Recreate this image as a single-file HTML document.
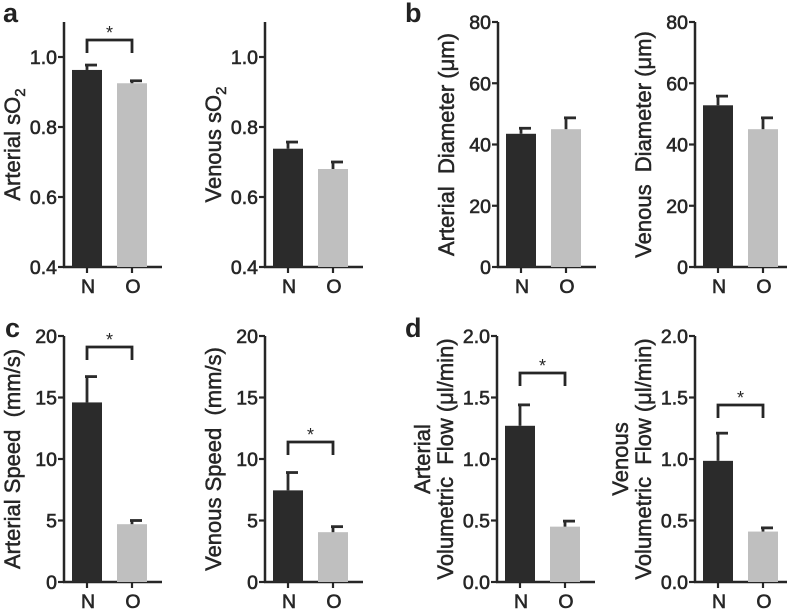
<!DOCTYPE html>
<html><head><meta charset="utf-8"><style>
body{margin:0;background:#fff;}
svg{display:block;font-family:"Liberation Sans",Arial,sans-serif;}
text{white-space:pre;}
</style></head><body>
<svg id="fig" width="787" height="609" viewBox="0 0 787 609"></svg>
<script>
const categories = ["N","O"];
const a1Values = [0.963, 0.925], a1Err = [0.977, 0.932];
const a2Values = [0.738, 0.680], a2Err = [0.757, 0.700];
const b1Values = [43.5, 45.0], b1Err = [45.3, 48.7];
const b2Values = [52.8, 45.0], b2Err = [55.8, 48.7];
const c1Values = [14.6, 4.7], c1Err = [16.7, 5.0];
const c2Values = [7.45, 4.05], c2Err = [8.9, 4.5];
const d1Values = [1.27, 0.45], d1Err = [1.44, 0.495];
const d2Values = [0.985, 0.41], d2Err = [1.21, 0.44];
const sO2Ticks = ["0.4","0.6","0.8","1.0"];
const diamTicks = ["0","20","40","60","80"];
const speedTicks = ["0","5","10","15","20"];
const flowTicks = ["0.0","0.5","1.0","1.5","2.0"];

const NS="http://www.w3.org/2000/svg";
const svg=document.getElementById('fig');
function mk(tag,attrs,parent){const e=document.createElementNS(NS,tag);for(const k in attrs)e.setAttribute(k,attrs[k]);(parent||svg).appendChild(e);return e;}

function panel(name,o){
  const g=mk('g',{});
  
  
  const y=v=>o.bottom-(v-o.min)/(o.max-o.min)*(o.bottom-o.top);
  const col='#262626';
  const ax=mk('line',{x1:o.ax,y1:o.top,x2:o.ax,y2:o.bottom,stroke:col,'stroke-width':2.5},g);
  
  const bl=mk('line',{x1:o.ax-1,y1:o.bottom,x2:o.ax+98,y2:o.bottom,stroke:col,'stroke-width':2.5},g);
  
  o.ticks.forEach(t=>{
    const v=parseFloat(t),yy=y(v);
    mk('line',{x1:o.ax-6,y1:yy,x2:o.ax,y2:yy,stroke:col,'stroke-width':2.2},g);
    const tx=mk('text',{x:o.ax-7,y:yy+7,'text-anchor':'end','font-size':19.5,fill:col,stroke:col,'stroke-width':0.6},g);
    tx.textContent=t;
    
  });
  const bx=[o.ax+8,o.ax+53];
  categories.forEach((c,i)=>{
    const x0=bx[i],w=30,cx=x0+w/2;
    const r=mk('rect',{x:x0,y:y(o.vals[i]),width:w,height:o.bottom-y(o.vals[i]),fill:i==0?'#2b2b2b':'#bfbfbf'},g);
    
    mk('line',{x1:cx,y1:y(o.vals[i]),x2:cx,y2:y(o.err[i]),stroke:'#2b2b2b','stroke-width':2.8},g);
    mk('line',{x1:cx-2,y1:y(o.err[i]),x2:cx+10,y2:y(o.err[i]),stroke:'#2b2b2b','stroke-width':2.8},g);
    mk('line',{x1:cx,y1:o.bottom,x2:cx,y2:o.bottom+6,stroke:col,'stroke-width':2.2},g);
    const lt=mk('text',{x:cx+1,y:o.bottom+26,'text-anchor':'middle','font-size':19.5,fill:col,stroke:col,'stroke-width':0.6},g);
    lt.textContent=c;
    
  });
  if(o.br){
    const x1=bx[0]+15,x2=bx[1]+15,by=o.br;
    const p=mk('path',{d:`M${x1} ${by+13}V${by}H${x2}V${by+13}`,fill:'none',stroke:col,'stroke-width':2.8},g);
    
    const s=mk('text',{x:(x1+x2)/2,y:by-1,'text-anchor':'middle','font-size':18,fill:col},g);
    s.textContent='*';
    
  }
  const midY=(o.top+o.bottom)/2;
  o.title.forEach((line,i)=>{
    const tx=o.ax-44+(i-(o.title.length-1))*23;
    const t=mk('text',{x:tx,y:midY,'text-anchor':'middle','font-size':22,fill:col,stroke:col,'stroke-width':0.5,transform:`rotate(-90 ${tx} ${midY})`},g);
    t.innerHTML=line;
    
  });
}
panel('panel-a-arterial-so2',{ax:64,top:22,bottom:267,min:0.4,max:1.1,ticks:sO2Ticks,vals:a1Values,err:a1Err,br:40,title:['Arterial sO<tspan font-size="15" dy="5">2</tspan>']});
panel('panel-a-venous-so2',{ax:265,top:22,bottom:267,min:0.4,max:1.1,ticks:sO2Ticks,vals:a2Values,err:a2Err,title:['Venous sO<tspan font-size="15" dy="5">2</tspan>']});
panel('panel-b-arterial-diameter',{ax:498,top:22,bottom:267,min:0,max:80,ticks:diamTicks,vals:b1Values,err:b1Err,title:['Arterial  Diameter (μm)']});
panel('panel-b-venous-diameter',{ax:695,top:22,bottom:267,min:0,max:80,ticks:diamTicks,vals:b2Values,err:b2Err,title:['Venous  Diameter (μm)']});
panel('panel-c-arterial-speed',{ax:64,top:336,bottom:582,min:0,max:20,ticks:speedTicks,vals:c1Values,err:c1Err,br:347,title:['Arterial Speed  (mm/s)']});
panel('panel-c-venous-speed',{ax:265,top:336,bottom:582,min:0,max:20,ticks:speedTicks,vals:c2Values,err:c2Err,br:442,title:['Venous Speed  (mm/s)']});
panel('panel-d-arterial-flow',{ax:497,top:336,bottom:582,min:0,max:2,ticks:flowTicks,vals:d1Values,err:d1Err,br:373,title:['Arterial','Volumetric  Flow (μl/min)']});
panel('panel-d-venous-flow',{ax:695,top:336,bottom:582,min:0,max:2,ticks:flowTicks,vals:d2Values,err:d2Err,br:405,title:['Venous','Volumetric  Flow (μl/min)']});
[['a',3,22],['b',405,22],['c',5,337],['d',405,337]].forEach(([l,x,yy])=>{
  const t=mk('text',{x:x,y:yy,'font-size':27,'font-weight':'bold',fill:'#222'});
  t.textContent=l;
  
  
});
</script>
</body></html>
